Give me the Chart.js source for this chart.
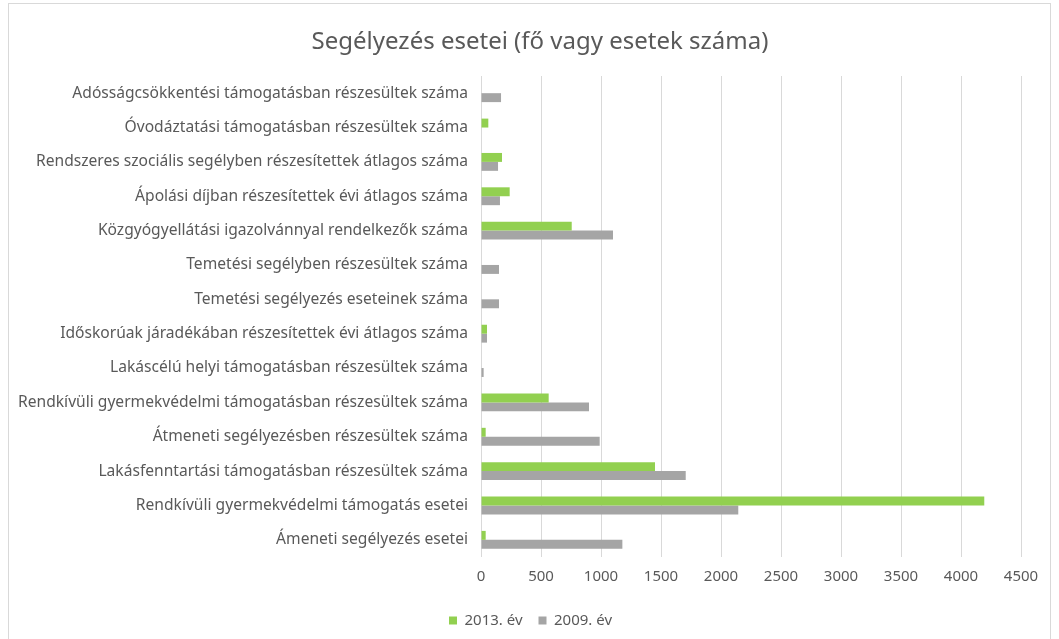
<!DOCTYPE html>
<html>
<head>
<meta charset="utf-8">
<script src="https://cdn.jsdelivr.net/npm/chart.js@4"></script>
<style>
	html, body { margin: 0; padding: 0; background: #fff; overflow: hidden; }
	#wrap { position: relative; width: 1059px; height: 639px; overflow: hidden; }
	#frame { position: absolute; left: 8px; top: 3px; width: 1043px; height: 640px; border: 1px solid #d9d9d9; box-sizing: border-box; }
	#holder { position: absolute; left: 0; top: 0; width: 1080px; height: 639px; }
</style>
</head>
<body>
<div id="wrap">
	<div id="frame"></div>
	<div id="holder"><canvas id="chart" width="1080" height="639"></canvas></div>
</div>
<script>
// categories, top to bottom as shown
const categories = [
	'Adósságcsökkentési támogatásban részesültek száma',
	'Óvodáztatási támogatásban részesültek száma',
	'Rendszeres szociális segélyben részesítettek átlagos száma',
	'Ápolási díjban részesítettek évi átlagos száma',
	'Közgyógyellátási igazolvánnyal rendelkezők száma',
	'Temetési segélyben részesültek száma',
	'Temetési segélyezés eseteinek száma',
	'Időskorúak járadékában részesítettek évi átlagos száma',
	'Lakáscélú helyi támogatásban részesültek száma',
	'Rendkívüli gyermekvédelmi támogatásban részesültek száma',
	'Átmeneti segélyezésben részesültek száma',
	'Lakásfenntartási támogatásban részesültek száma',
	'Rendkívüli gyermekvédelmi támogatás esetei',
	'Ámeneti segélyezés esetei',
];

const values2013 = [0, 61, 175, 239, 756, 0, 0, 50, 0, 564, 39, 1450, 4194, 39];
const values2009 = [167, 0, 142, 158, 1100, 150, 150, 50, 22, 900, 989, 1706, 2144, 1178];

const xTicks = [0, 500, 1000, 1500, 2000, 2500, 3000, 3500, 4000, 4500];

const chartTitle = 'Segélyezés esetei (fő vagy esetek száma)';
const textColor = '#595959';
const fontFamily = '"Noto Sans", "Open Sans", sans-serif';

// title drawn centred on the frame, like the spreadsheet does
const titlePlugin = {
	id: 'frameTitle',
	afterLayout(chart) {
		// legend sits centred on the frame too, not on the plot
		chart.legend.left += 20;
		chart.legend.right += 20;
	},
	afterDraw(chart) {
		const ctx = chart.ctx;
		ctx.save();
		ctx.fillStyle = textColor;
		ctx.font = `24px ${fontFamily}`;
		ctx.textAlign = 'center';
		ctx.textBaseline = 'middle';
		ctx.fillText(chartTitle, 540, 42);
		ctx.restore();
	},
};

new Chart(document.getElementById('chart'), {
	type: 'bar',
	data: {
		labels: categories,
		datasets: [
			{
				label: '2013. év',
				data: values2013,
				backgroundColor: '#92d050',
				categoryPercentage: 0.52,
				barPercentage: 1,
			},
			{
				label: '2009. év',
				data: values2009,
				backgroundColor: '#a5a5a5',
				categoryPercentage: 0.52,
				barPercentage: 1,
			},
		],
	},
	plugins: [titlePlugin],
	options: {
		indexAxis: 'y',
		responsive: false,
		animation: false,
		layout: {
			padding: { left: 0, right: 59, top: 76, bottom: 1 },
		},
		scales: {
			x: {
				min: 0,
				max: 4500,
				afterBuildTicks: (scale) => {
					scale.ticks = xTicks.map((v) => ({ value: v }));
				},
				grid: { color: '#d9d9d9', drawTicks: false },
				border: { display: false },
				ticks: {
					color: textColor,
					padding: 11,
					font: { family: fontFamily, size: 15 },
					callback: (v) => String(v),
				},
			},
			y: {
				afterFit: (scale) => {
					scale.width = 481;
				},
				grid: { display: false },
				border: { display: false },
				ticks: { color: textColor, padding: 5, font: { family: fontFamily, size: 15.6 } },
			},
		},
		plugins: {
			title: { display: false },
			legend: {
				position: 'bottom',
				labels: {
					color: textColor,
					boxWidth: 8,
					boxHeight: 8,
					padding: 16,
					font: { family: fontFamily, size: 15 },
				},
			},
			tooltip: { enabled: false },
		},
	},
});
</script>
</body>
</html>
